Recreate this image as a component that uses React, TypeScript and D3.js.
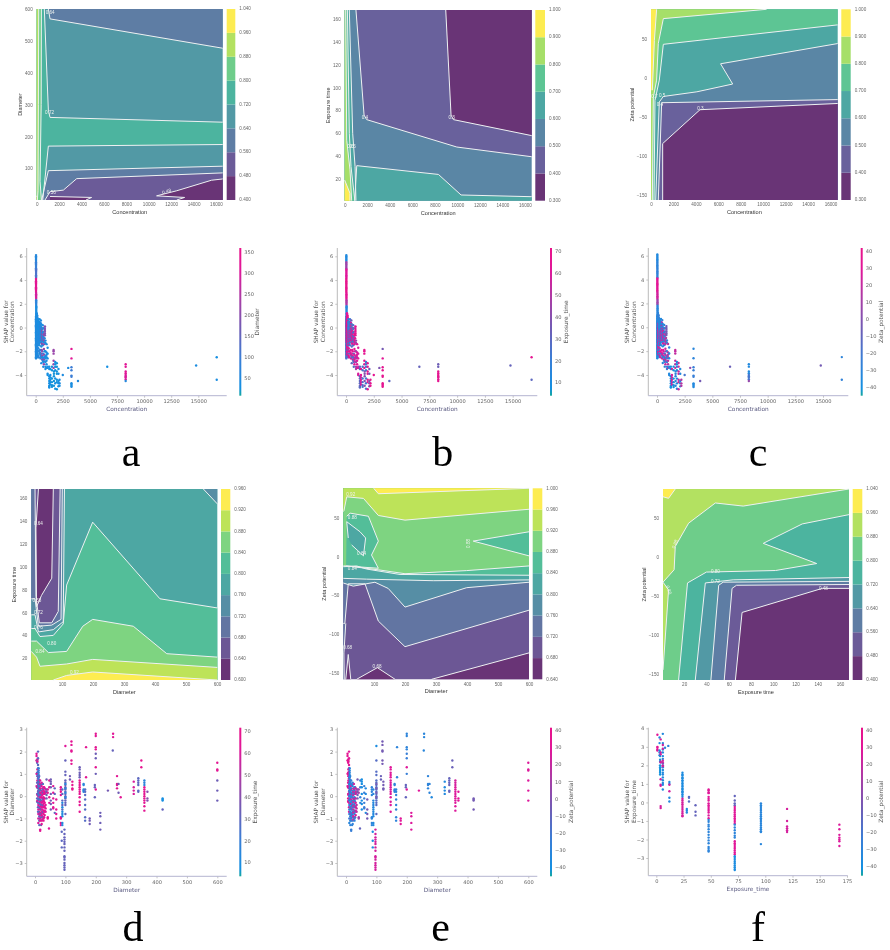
import React, { useRef, useEffect } from 'react';
import * as d3 from 'd3';

type Pt = [number, number];
interface Layer { band: number; line: Pt[]; close?: Pt[]; noStroke?: boolean; }
type Lab = [number, number, string, number?];

// PDP contour bands in data coordinates and painted in order
const levelsA = [0.4, 0.48, 0.56, 0.64, 0.72, 0.8, 0.88, 0.96, 1.04];
const levelsB = [0.3, 0.4, 0.5, 0.6, 0.7, 0.8, 0.9, 1.0];
const levelsD = [0.6, 0.64, 0.68, 0.72, 0.76, 0.8, 0.84, 0.88, 0.92, 0.96];
const levelsE = [0.64, 0.68, 0.72, 0.76, 0.8, 0.84, 0.88, 0.92, 0.96, 1.0];

const layersA: Layer[] = [
  { band: 3, line: [[0, 1], [16600, 1], [16600, 600], [0, 600]], noStroke: true },
  { band: 2, line: [[1040, 600], [1190, 569], [16600, 477]], close: [[16600, 600]] },
  { band: 4, line: [[680, 600], [1040, 283], [1190, 260], [16600, 245]], close: [[16600, 1], [0, 1], [0, 600]] },
  { band: 3, line: [[16600, 175], [1040, 170], [540, 1]], close: [[16600, 1]] },
  { band: 2, line: [[16600, 107], [1040, 93], [450, 1]], close: [[16600, 1]] },
  { band: 1, line: [[16600, 86], [3570, 68], [2380, 32], [1190, 27], [740, 1]], close: [[16600, 1]] },
  { band: 0, line: [[16600, 67], [15600, 63], [12500, 30], [10700, 14], [13200, 9], [12500, 1]], close: [[16600, 1]] },
  { band: 0, line: [[1190, 12], [4900, 9], [4400, 1]], close: [[1190, 1]] },
  { band: 5, line: [[420, 600], [400, 300], [300, 60], [420, 1]], close: [[0, 1], [0, 600]] },
  { band: 6, line: [[180, 600], [150, 300], [120, 30], [60, 1]], close: [[0, 1], [0, 600]] },
  { band: 7, line: [[60, 10], [0, 14]], close: [[0, 1], [60, 1]] },
];
const layersB: Layer[] = [
  { band: 2, line: [[0, 1], [16600, 1], [16600, 168], [0, 168]], noStroke: true },
  { band: 1, line: [[1000, 168], [1720, 76], [1950, 72], [9950, 48], [16600, 39.5]], close: [[16600, 168]] },
  { band: 0, line: [[8970, 168], [9440, 76], [9650, 72], [16600, 58]], close: [[16600, 168]] },
  { band: 3, line: [[16600, 4.5], [10330, 6], [8320, 24], [1070, 31.7], [890, 1]], close: [[16600, 1]] },
  { band: 3, line: [[410, 168], [710, 60], [920, 31], [1000, 1]], close: [[0, 1], [0, 168]] },
  { band: 4, line: [[240, 168], [410, 60], [560, 31], [900, 1]], close: [[0, 1], [0, 168]] },
  { band: 5, line: [[90, 168], [180, 54], [470, 28], [620, 1]], close: [[0, 1], [0, 168]] },
  { band: 6, line: [[0, 19], [470, 7.5], [470, 1]], close: [[0, 1]] },
];
const layersC: Layer[] = [
  { band: 3, line: [[0, -157], [16640, -157], [16640, 88], [0, 88]], noStroke: true },
  { band: 2, line: [[16640, 44], [6200, 18], [7280, -8], [4090, -18], [1100, -24], [740, -31], [420, -157]], close: [[16640, -157]] },
  { band: 1, line: [[16640, -28], [950, -32], [650, -157]], close: [[16640, -157]] },
  { band: 0, line: [[16640, -33], [4370, -41], [1040, -84.5], [1040, -157]], close: [[16640, -157]] },
  { band: 4, line: [[16640, 68], [1100, 43], [740, -3], [356, -29], [267, -157]], close: [[0, -157], [0, 88], [16640, 88]] },
  { band: 5, line: [[10300, 88], [1100, 76], [650, 44], [500, -3], [210, -25], [120, -157]], close: [[0, -157], [0, 88]] },
  { band: 6, line: [[500, 88], [300, 48], [120, -16]], close: [[0, -16], [0, 88]] },
];
const layersD: Layer[] = [
  { band: 4, line: [[1, 1], [601, 1], [601, 168], [1, 168]], noStroke: true },
  { band: 3, line: [[556, 168], [601, 155]], close: [[601, 168]] },
  { band: 5, line: [[601, 64], [416, 72], [199, 139], [115, 84], [104, 50], [72, 40], [29, 39], [13, 46], [1, 46]], close: [[1, 1], [601, 1]] },
  { band: 6, line: [[601, 21], [438, 24], [330, 48], [199, 54], [167, 48], [115, 26], [56, 25], [18, 35], [1, 35]], close: [[1, 1], [601, 1]] },
  { band: 7, line: [[601, 12], [199, 19], [115, 15], [29, 13], [18, 21], [1, 26]], close: [[1, 1], [601, 1]] },
  { band: 8, line: [[601, 1], [199, 8], [115, 5], [72, 1]] },
  { band: 3, line: [[108, 168], [104, 52], [72, 45], [24, 43], [13, 58], [1, 58]], close: [[1, 168]] },
  { band: 2, line: [[101, 168], [97, 54], [67, 49], [24, 48], [13, 72], [1, 72]], close: [[1, 168]] },
  { band: 1, line: [[94, 168], [88, 61], [67, 51], [27, 51], [16, 74], [13, 168]] },
  { band: 0, line: [[72, 168], [67, 90], [34, 75], [18, 65], [16, 134], [24, 168]] },
];
const layersE: Layer[] = [
  { band: 1, line: [[1, -158], [600, -158], [600, 88], [1, 88]], noStroke: true },
  { band: 2, line: [[600, -69], [200, -116], [114, -83], [71, -35], [17, -35], [6, -86], [1, -86]], close: [[1, 88], [600, 88]] },
  { band: 3, line: [[600, -33], [399, -40], [200, -65], [146, -41], [103, -33], [33, -38], [1, -34]], close: [[1, 88], [600, 88]] },
  { band: 4, line: [[600, -30], [291, -31], [76, -29], [1, -28]], close: [[1, 88], [600, 88]] },
  { band: 5, line: [[600, -24], [184, -23], [76, -16], [44, -12], [1, -13]], close: [[1, 88], [600, 88]] },
  { band: 6, line: [[600, -12], [399, -18], [200, -22], [114, -17], [12, -12], [1, -12]], close: [[1, 88], [600, 88]] },
  { band: 5, line: [[10, -12], [114, -15], [92, 2], [114, 20], [82, 52], [23, 56], [12, 52]] },
  { band: 4, line: [[28, 15], [66, 1], [73, 24], [55, 32], [12, 45], [17, 24]] },
  { band: 7, line: [[600, 61], [200, 47], [114, 53], [66, 75], [12, 77], [3, 59], [1, 58]], close: [[1, 88], [600, 88]] },
  { band: 8, line: [[99, 88], [114, 81], [600, 88]] },
  { band: 5, line: [[600, 32], [420, 20], [600, 1]] },
  { band: 0, line: [[600, -124], [286, -158]], close: [[600, -158]] },
  { band: 0, line: [[44, -158], [111, -143], [168, -158]] },
  { band: 0, line: [[9, -158], [17, -126], [25, -158]] },
  { band: 2, line: [[9, -86], [3, -124], [4, -158]], close: [[1, -158], [1, -86]] },
];
const layersF: Layer[] = [
  { band: 5, line: [[1, -158], [168, -158], [168, 88], [1, 88]], noStroke: true },
  { band: 6, line: [[168, 88], [73, 66], [48, 70], [24, 44], [12, 14], [11, -16], [1, -32]], close: [[1, 88]] },
  { band: 6, line: [[1, -32], [6, -42], [1, -145]] },
  { band: 7, line: [[1, 78], [6, 76], [12, 88]], close: [[1, 88]] },
  { band: 4, line: [[168, 55], [126, 43], [91, 18], [139, -8], [102, -17], [40, -19], [23, -33], [15, -158]], close: [[168, -158]] },
  { band: 3, line: [[168, -26], [64, -29], [39, -33], [30, -158]], close: [[168, -158]] },
  { band: 2, line: [[168, -31], [55, -32], [51, -36], [44, -158]], close: [[168, -158]] },
  { band: 1, line: [[168, -35], [67, -36], [63, -40], [56, -158]], close: [[168, -158]] },
  { band: 0, line: [[168, -40], [144, -40], [72, -71], [66, -158]], close: [[168, -158]] },
];

const labelsA: Lab[] = [[1200, 588, '0.64'], [1150, 275, '0.72'], [11600, 27, '0.48', -18], [1300, 25, '0.56']];
const labelsB: Lab[] = [[1800, 74, '0.4'], [9500, 74, '0.3'], [500, 48, '0.6'], [700, 48, '0.5']];
const labelsC: Lab[] = [[4400, -40, '0.3'], [1000, -23, '0.5'], [800, -35, '0.4'], [300, -25, '0.7']];
const labelsD: Lab[] = [[24, 138, '0.64'], [24, 47, '0.76'], [67, 33, '0.80'], [29, 26, '0.84'], [24, 60, '0.72'], [19, 70, '0.68'], [140, 7, '0.92']];
const labelsE: Lab[] = [[60, 4, '0.84'], [25, 80, '0.92'], [30, 50, '0.88'], [30, -16, '0.84'], [405, 17, '0.88', -90], [110, -142, '0.68'], [15, -118, '0.68']];
const labelsF: Lab[] = [[12, 17, '0.88', -70], [48, -19, '0.80'], [48, -32, '0.72'], [145, -40, '0.48'], [6, -42, '0.88', 70]];

const xTicksConc = [0, 2000, 4000, 6000, 8000, 10000, 12000, 14000, 16000];
const xTicksDiam = [100, 200, 300, 400, 500, 600];
const xTicksExpo = [20, 40, 60, 80, 100, 120, 140, 160];
const yTicksDiam = [100, 200, 300, 400, 500, 600];
const yTicksExpo = [20, 40, 60, 80, 100, 120, 140, 160];
const yTicksZeta = [-150, -100, -50, 0, 50];

// SHAP points grouped as [x, diameter, exposure, zeta, y values]
const concGroups: [number, number, number, number, number[]][] = [
  [25, 50, 26, -36, [0.9, 0.8, 0.7, 0.6, 0.5, 0.4, 0.3, 0.2, 0.1, 0, -0.1, -0.2, -0.3, -0.4, -0.5, -0.6, -0.7, -0.8, -0.9, -1, -1.1, -1.2, -1.3, -1.4, -1.5, -1.6, -1.7, -1.8, -1.9, -2, -2.1, -2.2, -2.3, -2.4, -2.5, -2.6]],
  [60, 35, 55, -25, [0.4, 0.3, 0.2, 0.1, 0, -0.1, -0.2, -0.3, -0.4, -0.5, -0.6, -0.7, -0.8, -0.9, -1, -1.1, -1.2]],
  [70, 40, 30, -38, [0.95, 0.75, 0.55, 0.35, 0.15, -0.05, -0.25, -0.45, -0.65, -0.85, -1.05, -1.25, -1.5, -1.75, -2]],
  [100, 60, 68, 22, [0.3, 0.15, -0.05, -0.25, -0.45, -0.65, -0.85, -1.05, -1.25, -1.45, -1.65, -1.85, -2.05, -2.25]],
  [130, 55, 66, 18, [0.65, 0.45, 0.25, 0.05, -0.15, -0.35, -0.55, -0.75, -1, -1.3, -1.6, -2.1]],
  [170, 45, 40, -30, [0, -0.2, -0.4, -0.6, -0.8, -1, -1.2, -1.4, -1.9, -2.2, -2.4]],
  [200, 40, 28, -33, [0.55, 0.2, -0.25, -0.5, -0.7, -0.9, -1.1, -1.3, -1.5, -2.5]],
  [240, 55, 68, 15, [-0.1, -0.35, -0.55, -0.75, -0.95, -1.15, -1.75, -2.35]],
  [280, 70, 66, 25, [0.3, 0.05, -0.2, -0.45, -0.7, -0.9, -1.2, -1.4, -2, -2.5]],
  [320, 40, 20, -35, [0.5, 0.3, 0.1, -0.1, -0.3, -0.5, -0.7, -0.9, -1.1, -1.3]],
  [360, 35, 22, -36, [0.7, 0.4, 0.2, 0, -0.2, -0.4, -0.6, -0.8, -1, -1.5, -2.2]],
  [400, 70, 62, 30, [0.15, -0.05, -0.25, -0.45, -0.65, -0.85, -1.05, -1.9, -2.1]],
  [440, 60, 64, 20, [0.4, 0.1, -0.15, -0.4, -0.6, -0.8, -1.1, -2.3, -2.6]],
  [480, 50, 35, -28, [0.6, 0.3, 0.05, -0.2, -0.5, -0.8, -1, -1.25, -2.4]],
  [520, 40, 30, -34, [0.25, 0, -0.3, -0.6, -0.9, -1.2, -1.6, -2.5, -3]],
  [560, 180, 68, 28, [-0.3, -0.55, -0.8, -1.05, -1.35, -1.9, -2.2]],
  [600, 200, 66, 26, [-0.1, -0.4, -0.7, -0.95, -1.4, -2, -2.4, -2.7]],
  [650, 45, 25, -32, [0.2, -0.1, -0.45, -0.7, -1, -1.15, -1.5, -2.5, -2.8]],
  [700, 45, 28, -30, [-0.05, -0.35, -0.8, -1.2, -2.2, -2.6, -2.9, -3.3]],
  [760, 210, 66, 20, [-0.55, -0.65, -0.95, -1.1, -1.4, -1.8, -2.3, -2.7, -3.1]],
  [820, 50, 62, 10, [-0.9, -1.25, -2, -2.5, -2.85]],
  [850, 190, 68, -5, [0.1, -0.05, -0.2, -0.35, -0.5, -0.65]],
  [900, 40, 45, -25, [-1.1, -1.3, -2, -2.4, -2.6, -2.9, -3.3, -3.5]],
  [1000, 45, 62, 15, [-1.4, -2.1, -2.3, -2.5, -2.8, -3.1, -3.4]],
  [1100, 30, 60, -35, [-1.7, -2.2, -2.6, -3.3, -3.4, -3.9, -4]],
  [1250, 30, 30, -40, [-3.3, -3.5, -4.1, -4.3, -4.5, -4.7, -4.9, -5, -5.05]],
  [1350, 30, 65, 25, [-3.5, -4, -4.2, -4.4, -4.6, -4.8]],
  [1500, 25, 25, -42, [-3.3, -3.6, -4.3, -4.6, -4.85, -5]],
  [1650, 220, 68, 20, [-1.9, -2, -2.2, -2.8, -3.1, -3.4]],
  [1680, 25, 40, -30, [-3.7, -3.9, -4.1, -4.5, -4.9]],
  [1800, 30, 22, -40, [-2.9, -3.1, -3.3, -3.6, -4.3, -4.7, -5.15]],
  [1950, 25, 68, 20, [-3, -3.3, -3.7, -3.9, -4.4, -4.6, -5.2]],
  [2100, 30, 35, -35, [-3.5, -3.9, -4.5, -4.7, -4.95]],
  [2200, 40, 68, 15, [-4.4, -4.7, -4.9]],
  [2500, 45, 68, -20, [-4]],
  [3000, 45, 38, 5, [-3.4]],
  [3300, 330, 36, -32, [-1.8]],
  [3300, 320, 65, -30, [-2.6]],
  [3300, 100, 68, -25, [-3.35, -3.6, -4.05, -4.15]],
  [3300, 40, 68, -35, [-4.7, -4.8, -4.9, -5]],
  [3900, 50, 30, -5, [-4.5]],
  [6600, 30, 32, -8, [-3.3]],
  [8300, 320, 34, -35, [-3.1, -3.3]],
  [8300, 320, 68, -35, [-3.7, -3.85]],
  [8300, 300, 68, -20, [-4, -4.1, -4.2, -4.35]],
  [8300, 60, 68, 5, [-4.5]],
  [14800, 40, 32, -5, [-3.2]],
  [16700, 30, 68, -30, [-2.5]],
  [16700, 40, 30, -28, [-4.4]],
  [30, 60, 12, -35, [6.1, 6, 5.9, 5.8, 5.7, 5.6]],
  [30, 90, 45, -30, [5.5, 5.4, 5.3, 5.2, 5.1, 5]],
  [35, 120, 62, -28, [4.9, 4.8, 4.7, 4.6, 4.5, 4.4, 4.3, 4.2]],
  [30, 330, 70, 32, [4.1, 4, 3.9, 3.8, 3.7, 3.6, 3.5, 3.4, 3.3, 3.2, 3.1, 3]],
  [40, 290, 65, 24, [2.9, 2.8, 2.7, 2.6, 2.5, 2.4]],
  [45, 75, 50, 8, [2.3, 2.2, 2.1, 2, 1.9]],
  [50, 40, 15, -32, [1.8, 1.7, 1.6, 1.5, 1.4, 1.3, 1.2, 1.1, 1]],
  [90, 45, 62, -30, [1.2, 1.1, 0.95, 0.8, 0.7, 0.6, 0.5]],
  [150, 48, 70, -26, [1, 0.85, 0.75, 0.6, 0.45, 0.35, 0.2, 0.1]],
  [220, 35, 18, -34, [0.7, 0.5, 0.4, 0.3, 0.15, 0, -0.1]],
];

// [x, exposure, zeta, y values]
const diamGroups: [number, number, number, number[]][] = [
  [5, 65, 35, [1.9, 1.8, 1.6, 1, 0.45]],
  [7, 30, 38, [1.6, 1.5, 1.05, 0.9, 0.6, 0.4, 0.1, -0.1, -0.25]],
  [8, 70, 35, [1.65, 1.55, 1.2, 1, 0.7, 0.4, 0.05, -0.2]],
  [10, 30, 30, [2, 1.7, 1.4, 1.25, 1.1, 0.95, 0.8, 0.65, 0.5, 0.35, 0.2, 0.05, -0.1, -0.3, -0.5, -0.7]],
  [11, 62, -32, [0.85, 0.55, 0.25, 0, -0.2, -0.4, -0.6, -0.8, -1, -1.2]],
  [12, 20, -35, [1.25, 1.15, 1.05, 0.95, 0.85, 0.75, 0.65, 0.55, 0.45, 0.35, 0.25, 0.15, 0.05, -0.15]],
  [14, 30, -30, [0.9, 0.7, 0.6, 0.5, 0.4, 0.3, 0.2, 0.1, 0, -0.1, -0.3, -0.5, -0.7, -0.9, -1.1, -1.3]],
  [16, 25, 28, [0.45, 0.3, 0.1, -0.15, -0.35, -0.55, -0.8, -1]],
  [17, 65, -25, [0.7, 0.55, 0.35, 0.15, -0.05, -0.25, -0.45, -0.6, -0.75, -0.85, -1, -1.1, -1.5, -1.55]],
  [20, 35, -30, [0.5, 0.25, 0.05, -0.2, -0.4, -0.6, -0.8, -0.95, -1.3]],
  [22, 66, -28, [0.6, 0.45, 0.15, -0.05, -0.3, -0.5, -0.7, -0.85, -1.1, -1.25]],
  [24, 62, 25, [0.35, 0.2, 0.05, -0.1, -0.25, -0.45, -0.6, -0.75, -0.9, -1.05]],
  [26, 30, 22, [0.55, 0.3, 0.15, -0.15, -0.4, -0.7, -0.95]],
  [28, 65, -30, [0.4, 0.25, 0.1, -0.05, -0.2, -0.35, -0.5, -0.65, -0.8, -1, -1.1]],
  [30, 64, -15, [0.4, 0.15, -0.1, -0.25, -0.45, -0.7, -0.95]],
  [32, 68, 28, [0.35, 0.2, 0.1, -0.1, -0.3, -0.5, -0.65, -0.85]],
  [35, 62, 18, [0.3, 0.15, -0.4, -0.55, -0.7]],
  [38, 35, -5, [0.75, 0.3, 0.2, 0.05, -0.1]],
  [42, 68, 10, [0.3, 0.15, -0.95, -1]],
  [46, 62, -10, [-1.45]],
  [47, 68, -25, [0.7, 0.4, -0.05, -0.3]],
  [52, 35, -40, [0.75, 0.65, 0.55, 0.4, 0.1, -0.2, -0.35, -0.6]],
  [60, 65, -25, [0.45, 0.15, -0.1, -0.3, -0.5, -0.55]],
  [65, 30, -35, [0.35, 0.1, -0.75]],
  [70, 65, -5, [-0.15, -0.6, -0.8, -1]],
  [85, 68, -30, [0.4, 0.3, 0.2, 0.05, -0.95, -1, -1.2, -1.3]],
  [90, 30, -32, [0.3, 0.1, -0.2, -0.4, -0.6]],
  [90, 12, -35, [-0.3, -0.5, -0.7, -0.8, -0.9, -1.2, -1.3]],
  [88, 30, -38, [-1.6, -2, -2.3]],
  [97, 32, 25, [-1.5, -1.7, -1.85, -1.95, -2.05, -2.15, -2.3, -2.45, -2.7, -2.75, -2.85, -3, -3.1, -3.2, -3.3]],
  [100, 62, -38, [2.25]],
  [100, 32, -15, [1.6, 1.1, 0.95, 0.7, 0.6, 0.5, 0.4, 0.3, 0.2, 0.1, 0, -0.1, -0.2, -0.3, -0.4, -0.8]],
  [100, 15, -5, [0.55, 0.35, 0.15, -0.05]],
  [120, 66, -5, [2.45, 2.3, 2.05, 2, 1.6, 1.45]],
  [115, 35, -8, [0.9, 0.75]],
  [123, 68, -5, [0.65, 0.5, 0.35, 0.3]],
  [147, 34, 30, [1.3, 1.2, 1.05, 0.95, 0.85]],
  [147, 68, 28, [0.7, 0.6, 0.5, 0.4, 0.3, 0.2, 0.1, -0.05, -0.25, -0.4, -0.7]],
  [160, 15, -30, [0.55, 0.5, 0.3, 0.25, 0.2]],
  [165, 28, -30, [0.3, 0.2, 0.05, -0.15, -0.4, -0.6, -0.95, -1.1]],
  [168, 66, -30, [2.2, 0.85]],
  [180, 35, 30, [-1, -1.1, -1.25]],
  [200, 66, -30, [2.8, 2.7, 2.2, 2.1]],
  [200, 34, -25, [1.9, 1.7, 1]],
  [197, 32, -10, [0.5, 0.4, -0.05]],
  [200, 66, 30, [1.3, 0.3]],
  [215, 34, 28, [-0.75, -0.9, -1.2, -1.5]],
  [240, 36, 30, [0.25]],
  [257, 64, -32, [2.8, 2.65]],
  [256, 32, -32, [2.05]],
  [270, 66, -30, [0.9, 0.55, 0.35, 0.5]],
  [275, 35, -30, [0.55, 0.15]],
  [282, 66, -35, [-0.05]],
  [325, 60, -35, [0.65, 0.4, 0.25, 0.1]],
  [340, 30, -10, [0.8, 0.7, 0.6, 0.5, 0.25, 0.2]],
  [350, 68, -8, [1.6, 1.3]],
  [360, 16, 25, [0.7, 0.6, 0.5]],
  [360, 66, 28, [0.4, 0.3, 0.2, 0.1, 0, -0.1, -0.2, -0.3, -0.45, -0.65]],
  [370, 40, 30, [0.2, -0.1, -0.2]],
  [420, 8, -5, [-0.1, -0.15, -0.2]],
  [420, 32, -5, [-0.6]],
  [600, 66, 28, [1.5, 1.2, 1.15]],
  [600, 34, 28, [0.7, 0.25, -0.2]],
];

// [x, zeta, y values]
const expoGroups: [number, number, number[]][] = [
  [1, 32, [3.65, 3, 2.95, 2.85, 2.8]],
  [3, -35, [3.5, 3.2, 2.8, 2.7, 2.55]],
  [3.5, -42, [2.7, 2.5, 2.3, 2.2, 2, 1.9, 1.8, 1.7, 1.6, 1.5]],
  [4, 25, [3.4, 2.7, 2.6, 2.2, 2.15, 1.25, 0.95, 0.9, -0.2, -0.3]],
  [6, -35, [3.7, 3.2, 2.85, 2.7, 2.5, 2.35, 2.1, 1.9, 1.75, 1.6, 1.5, 1.35, 1.2, 1.05, 0.95, 0.7]],
  [6, 22, [3.1, 2.9, 2.25, 2.15, 2, 1.95]],
  [8, -30, [2.95]],
  [11, -30, [3.05]],
  [12, -35, [1.1, 1, 0.25, 0.05]],
  [12, 25, [0.95, 0.6]],
  [24, -38, [1.6, 1.5, 1.45, 1.35, 1.3, 1.2, 1.15, 1.05, 1, 0.9, 0.85, 0.75, 0.7, 0.6, 0.55, 0.45, 0.4, 0.3]],
  [24, 25, [0.2, 0.1, 0, -0.1, -0.2, -0.3, -0.4, -0.5, -0.6, -0.7, -0.75]],
  [30, -15, [0.3, 0.25, 0.05]],
  [28, -35, [-0.35, -0.45, -0.55]],
  [36, -10, [-0.15, -0.5, -0.7]],
  [48, 30, [0.7, 0.65, 0.55, 0.5, 0.3, 0.2, 0.1, -0.05, -0.15, -0.25, -0.35, -0.45, -0.55, -0.7, -0.85]],
  [48, -30, [-0.95, -1.05, -1.2, -1.3, -1.45, -1.6, -1.75, -1.9, -2.05, -2.2, -2.4, -2.5, -2.6, -2.65]],
  [72, -10, [0.35, 0.1, -0.05, -0.15]],
  [72, 30, [-0.25, -0.35, -0.45, -0.55, -0.65, -0.75, -0.85, -0.95, -1.05, -1.15]],
  [72, -30, [-1.2, -1.35, -1.5, -1.65, -1.8, -1.9]],
  [72, 30, [-2.1, -2.2, -2.3, -2.4, -2.5, -2.6, -2.7, -2.8]],
  [72, -38, [-2.9, -3, -3.1, -3.2, -3.3, -3.4, -3.5, -3.6, -3.65]],
  [96, -32, [-0.05, -0.15, -0.25, -0.35, -0.45, -0.55, -0.65, -0.75, -0.85, -0.95, -1.05, -1.15, -1.25, -1.35, -1.45, -1.55, -1.6, -2.25]],
  [120, 25, [-0.35, -1, -1.3, -1.4, -1.5, -1.6]],
  [168, 28, [-1.2, -1.45, -1.75, -1.9, -2, -2.1, -2.35]],
];

const concPoints = (k: 1 | 2 | 3) => concGroups.flatMap(g => g[4].map(y => [g[0], y, g[k]] as [number, number, number]));
const diamPoints = (k: 1 | 2) => diamGroups.flatMap(g => g[3].map(y => [g[0], y, g[k]] as [number, number, number]));
const expoPoints = expoGroups.flatMap(g => g[2].map(y => [g[0], y, g[1]] as [number, number, number]));

const contourPanels = [
  { xLabel: 'Concentration', yLabel: 'Diameter', levels: levelsA, layers: layersA, labels: labelsA, xDomain: [0, 16600], yDomain: [1, 600], xTicks: xTicksConc, yTicks: yTicksDiam, box: [36.7, 222.7, 200, 9], cb: [226.7, 235.3], yLabelX: 22 },
  { xLabel: 'Concentration', yLabel: 'Exposure time', levels: levelsB, layers: layersB, labels: labelsB, xDomain: [0, 16600], yDomain: [1, 168], xTicks: xTicksConc, yTicks: yTicksExpo, box: [344.7, 531.7, 200.7, 10], cb: [535.3, 545], yLabelX: 330 },
  { xLabel: 'Concentration', yLabel: 'Zeta potential', levels: levelsB, layers: layersC, labels: labelsC, xDomain: [0, 16640], yDomain: [-157, 88], xTicks: xTicksConc, yTicks: yTicksZeta, box: [651, 837.7, 200, 9.3], cb: [841.3, 850.7], yLabelX: 634 },
  { xLabel: 'Diameter', yLabel: 'Exposure time', levels: levelsD, layers: layersD, labels: labelsD, xDomain: [1, 601], yDomain: [1, 168], xTicks: xTicksDiam, yTicks: yTicksExpo, box: [31.3, 217.3, 680, 489], cb: [221, 230.3], yLabelX: 16.3 },
  { xLabel: 'Diameter', yLabel: 'Zeta potential', levels: levelsE, layers: layersE, labels: labelsE, xDomain: [1, 600], yDomain: [-158, 88], xTicks: xTicksDiam, yTicks: yTicksZeta, box: [343.3, 529, 679.3, 488.3], cb: [532.7, 542.3], yLabelX: 326 },
  { xLabel: 'Exposure time', yLabel: 'Zeta potential', levels: levelsA, layers: layersF, labels: labelsF, xDomain: [1, 168], yDomain: [-158, 88], xTicks: xTicksExpo, yTicks: yTicksZeta, box: [663, 849, 680, 489], cb: [852.7, 862.3], yLabelX: 645.7 },
];

const concXTicks = [0, 2500, 5000, 7500, 10000, 12500, 15000];
const concYTicks = [-4, -2, 0, 2, 4, 6];
const diamXTicks = [0, 100, 200, 300, 400, 500, 600];
const diamYTicks = [-3, -2, -1, 0, 1, 2, 3];
const expoXTicks = [0, 25, 50, 75, 100, 125, 150, 175];
const expoYTicks = [-3, -2, -1, 0, 1, 2, 3, 4];

const diamCb = [50, 100, 150, 200, 250, 300, 350];
const expoCb = [10, 20, 30, 40, 50, 60, 70];
const zetaCb = [-40, -30, -20, -10, 0, 10, 20, 30, 40];

const scatterPanels = [
  { points: concPoints(1), xLabel: 'Concentration', yName: 'Concentration', cLabel: 'Diameter', cRange: [10, 360], cTicks: diamCb, cPx: [379, 253], xA: [0, 15000], xPx: [35.7, 198.3], yA: [-4, 6], yPx: [375, 256.3], xTicks: concXTicks, yTicks: concYTicks, frame: [26.7, 226.7, 395.7, 248], cbX: 239.3, cLabelDx: 20 },
  { points: concPoints(2), xLabel: 'Concentration', yName: 'Concentration', cLabel: 'Exposure_time', cRange: [4, 72], cTicks: expoCb, cPx: [383, 252], xA: [0, 15000], xPx: [346, 512.7], yA: [-4, 6], yPx: [375, 256.3], xTicks: concXTicks, yTicks: concYTicks, frame: [337.3, 537.3, 395.7, 248], cbX: 550, cLabelDx: 18 },
  { points: concPoints(3), xLabel: 'Concentration', yName: 'Concentration', cLabel: 'Zeta_potential', cRange: [-46, 42], cTicks: zetaCb, cPx: [387.3, 251.7], xA: [0, 15000], xPx: [657, 823], yA: [-4, 6], yPx: [375, 255.7], xTicks: concXTicks, yTicks: concYTicks, frame: [648.3, 848.3, 395.7, 248], cbX: 860.7, cLabelDx: 22 },
  { points: diamPoints(1), xLabel: 'Diameter', yName: 'Diameter', cLabel: 'Exposure_time', cRange: [4, 72], cTicks: expoCb, cPx: [863, 731.7], xA: [0, 600], xPx: [35, 217.3], yA: [-3, 3], yPx: [863, 729.3], xTicks: diamXTicks, yTicks: diamYTicks, frame: [26.7, 226.7, 876.3, 727.7], cbX: 239.3, cLabelDx: 18 },
  { points: diamPoints(2), xLabel: 'Diameter', yName: 'Diameter', cLabel: 'Zeta_potential', cRange: [-46, 42], cTicks: zetaCb, cPx: [867.3, 731], xA: [0, 600], xPx: [346, 528.3], yA: [-3, 3], yPx: [863, 729.3], xTicks: diamXTicks, yTicks: diamYTicks, frame: [337.3, 537.3, 876.3, 727.7], cbX: 550, cLabelDx: 22.7 },
  { points: expoPoints, xLabel: 'Exposure_time', yName: 'Exposure_time', cLabel: 'Zeta_potential', cRange: [-46, 42], cTicks: zetaCb, cPx: [867, 731], xA: [0, 175], xPx: [656.3, 847], yA: [-3, 4], yPx: [858, 728.3], xTicks: expoXTicks, yTicks: expoYTicks, frame: [648.3, 847.7, 875.7, 727.7], cbX: 861, cLabelDx: 22 },
];

const panelLetters: [string, number, number][] = [
  ['a', 131, 466], ['b', 442.7, 466], ['c', 758, 466],
  ['d', 133, 940.5], ['e', 440.7, 940.5], ['f', 758, 940.5],
];

const shapStops = ['#16a89c', '#1490e2', '#3a7ed6', '#6f5db5', '#a83ea6', '#e0179a', '#e8148a'];
const stopAt = [0, 0.05, 0.25, 0.45, 0.65, 0.85, 1];
const shapColor = d3.scaleLinear<string>().domain(stopAt).range(shapStops).interpolate(d3.interpolateRgb);

const fmtTick = (d: d3.NumberValue) => String(d).replace('-', '\u2212');

const App: React.FC = () => {
  const svgRef = useRef<SVGSVGElement>(null);

  useEffect(() => {
    const svg = d3.select(svgRef.current);
    svg.selectAll('*').remove();
    const defs = svg.append('defs');

    // Contour plots
    contourPanels.forEach(p => {
      const [left, right, bottom, top] = p.box;
      const x = d3.scaleLinear().domain(p.xDomain).range([left, right]);
      const y = d3.scaleLinear().domain(p.yDomain).range([bottom, top]);
      const nBands = p.levels.length - 1;
      // viridis at 0.8 alpha flattened on white, the bands are painted over each other
      const bandColor = (i: number) => d3.interpolateRgb(d3.interpolateViridis(i / (nBands - 1)), '#fff')(0.2);
      const g = svg.append('g');
      const line = d3.line<Pt>().x(d => x(d[0])).y(d => y(d[1]));

      p.layers.forEach(l => {
        g.append('path')
          .attr('d', line([...l.line, ...(l.close || [])]) + 'Z')
          .attr('fill', bandColor(l.band));
      });
      // white lines on top
      p.layers.filter(l => !l.noStroke).forEach(l => {
        g.append('path')
          .attr('d', line(l.line))
          .attr('fill', 'none')
          .attr('stroke', '#eef1f2')
          .attr('stroke-width', 1);
      });

      p.labels.forEach(([lx, ly, txt, rot]) => {
        g.append('text')
          .attr('transform', `translate(${x(lx)},${y(ly)}) rotate(${rot || 0})`)
          .attr('text-anchor', 'middle')
          .attr('dominant-baseline', 'middle')
          .style('font-size', '4.6px')
          .style('font-family', 'Liberation Sans')
          .style('fill', '#eef2ee')
          .text(txt);
      });

      const xAxis = g.append('g').attr('transform', `translate(0,${bottom})`)
        .call(d3.axisBottom(x).tickValues(p.xTicks).tickSize(0).tickPadding(3).tickFormat(fmtTick));
      const yAxis = g.append('g').attr('transform', `translate(${left},0)`)
        .call(d3.axisLeft(y).tickValues(p.yTicks).tickSize(0).tickPadding(4).tickFormat(fmtTick));
      [xAxis, yAxis].forEach(a => {
        a.select('.domain').remove();
        a.selectAll('text').style('font-size', '4.6px').style('font-family', 'Liberation Sans').style('fill', '#666');
      });

      g.append('text')
        .attr('x', (left + right) / 2).attr('y', bottom + 14)
        .attr('text-anchor', 'middle')
        .style('font-size', '5.6px').style('font-family', 'Liberation Sans').style('fill', '#333')
        .text(p.xLabel);
      g.append('text')
        .attr('transform', `translate(${p.yLabelX},${(top + bottom) / 2}) rotate(-90)`)
        .attr('text-anchor', 'middle')
        .style('font-size', '5.6px').style('font-family', 'Liberation Sans').style('fill', '#333')
        .text(p.yLabel);

      // Discrete colour bar
      const cb = d3.scaleLinear().domain([p.levels[0], p.levels[nBands]]).range([bottom, top]);
      g.selectAll('.cb-band')
        .data(d3.range(nBands))
        .enter()
        .append('rect')
        .attr('x', p.cb[0])
        .attr('width', p.cb[1] - p.cb[0])
        .attr('y', d => cb(p.levels[d + 1]))
        .attr('height', d => cb(p.levels[d]) - cb(p.levels[d + 1]))
        .attr('fill', d => bandColor(d));
      g.selectAll('.cb-label')
        .data(p.levels)
        .enter()
        .append('text')
        .attr('x', p.cb[1] + 4)
        .attr('y', d => cb(d))
        .attr('dominant-baseline', 'middle')
        .style('font-size', '4.6px').style('font-family', 'Liberation Sans').style('fill', '#666')
        .text(d => d.toFixed(3));
    });

    // SHAP dependence plots
    scatterPanels.forEach((p, idx) => {
      const [left, right, bottom, top] = p.frame;
      const x = d3.scaleLinear().domain(p.xA).range(p.xPx);
      const y = d3.scaleLinear().domain(p.yA).range(p.yPx);
      const c = d3.scaleLinear().domain(p.cRange).range([0, 1]);
      const g = svg.append('g');

      g.selectAll('circle')
        .data(p.points)
        .enter()
        .append('circle')
        .attr('cx', d => x(d[0]))
        .attr('cy', d => y(d[1]))
        .attr('r', 1.2)
        .attr('fill', d => shapColor(c(d[2])));

      const xAxis = g.append('g').attr('transform', `translate(0,${bottom})`)
        .call(d3.axisBottom(x).tickValues(p.xTicks).tickSize(2).tickPadding(2).tickFormat(fmtTick));
      const yAxis = g.append('g').attr('transform', `translate(${left},0)`)
        .call(d3.axisLeft(y).tickValues(p.yTicks).tickSize(2).tickPadding(2).tickFormat(fmtTick));
      [xAxis, yAxis].forEach(a => {
        a.select('.domain').remove();
        a.selectAll('line').attr('stroke', '#888').attr('stroke-width', 0.5);
        a.selectAll('text').style('font-size', '5.1px').style('font-family', 'DejaVu Sans').style('fill', '#666');
      });
      g.append('line').attr('x1', left).attr('x2', left).attr('y1', top).attr('y2', bottom).attr('stroke', '#bbb').attr('stroke-width', 1);
      g.append('line').attr('x1', left).attr('x2', right).attr('y1', bottom).attr('y2', bottom).attr('stroke', '#b4b4d0').attr('stroke-width', 1);

      g.append('text')
        .attr('x', (left + right) / 2).attr('y', bottom + 15.5)
        .attr('text-anchor', 'middle')
        .style('font-size', '5.8px').style('font-family', 'DejaVu Sans').style('fill', '#5a5a80')
        .text(p.xLabel);

      const yMid = (top + bottom) / 2;
      g.append('text')
        .attr('transform', `translate(${left - 19},${yMid}) rotate(-90)`)
        .attr('text-anchor', 'middle')
        .style('font-size', '5.8px').style('font-family', 'DejaVu Sans').style('fill', '#555')
        .text('SHAP value for');
      g.append('text')
        .attr('transform', `translate(${left - 12.5},${yMid}) rotate(-90)`)
        .attr('text-anchor', 'middle')
        .style('font-size', '5.8px').style('font-family', 'DejaVu Sans').style('fill', '#555')
        .text(p.yName);

      // Continuous colour bar
      const gradId = `shap-grad-${idx}`;
      const grad = defs.append('linearGradient').attr('id', gradId).attr('x1', 0).attr('x2', 0).attr('y1', 1).attr('y2', 0);
      stopAt.forEach((s, i) => grad.append('stop').attr('offset', s).attr('stop-color', shapStops[i]));
      const cbX = p.cbX;
      g.append('rect')
        .attr('x', cbX).attr('width', 2).attr('y', top).attr('height', bottom - top)
        .attr('fill', `url(#${gradId})`);
      const cPos = d3.scaleLinear().domain([p.cTicks[0], p.cTicks[p.cTicks.length - 1]]).range(p.cPx);
      g.selectAll('.c-tick')
        .data(p.cTicks)
        .enter()
        .append('text')
        .attr('x', cbX + 5)
        .attr('y', d => cPos(d))
        .attr('dominant-baseline', 'middle')
        .style('font-size', '5.1px').style('font-family', 'DejaVu Sans').style('fill', '#666')
        .text(fmtTick);
      g.append('text')
        .attr('transform', `translate(${cbX + p.cLabelDx},${yMid}) rotate(-90)`)
        .attr('text-anchor', 'middle')
        .style('font-size', '5.8px').style('font-family', 'DejaVu Sans').style('fill', '#555')
        .text(p.cLabel);
    });

    // Panel letters
    svg.selectAll('.panel-letter')
      .data(panelLetters)
      .enter()
      .append('text')
      .attr('x', d => d[1])
      .attr('y', d => d[2])
      .attr('text-anchor', 'middle')
      .style('font-family', 'Liberation Serif')
      .style('font-size', '42px')
      .style('fill', '#000')
      .text(d => d[0]);
  }, []);

  return (
    <svg
      ref={svgRef}
      width={890}
      height={950}
      style={{ position: 'absolute', left: 0, top: 0, background: '#fff', filter: 'blur(0.35px)' }}
    />
  );
};

export default App;
